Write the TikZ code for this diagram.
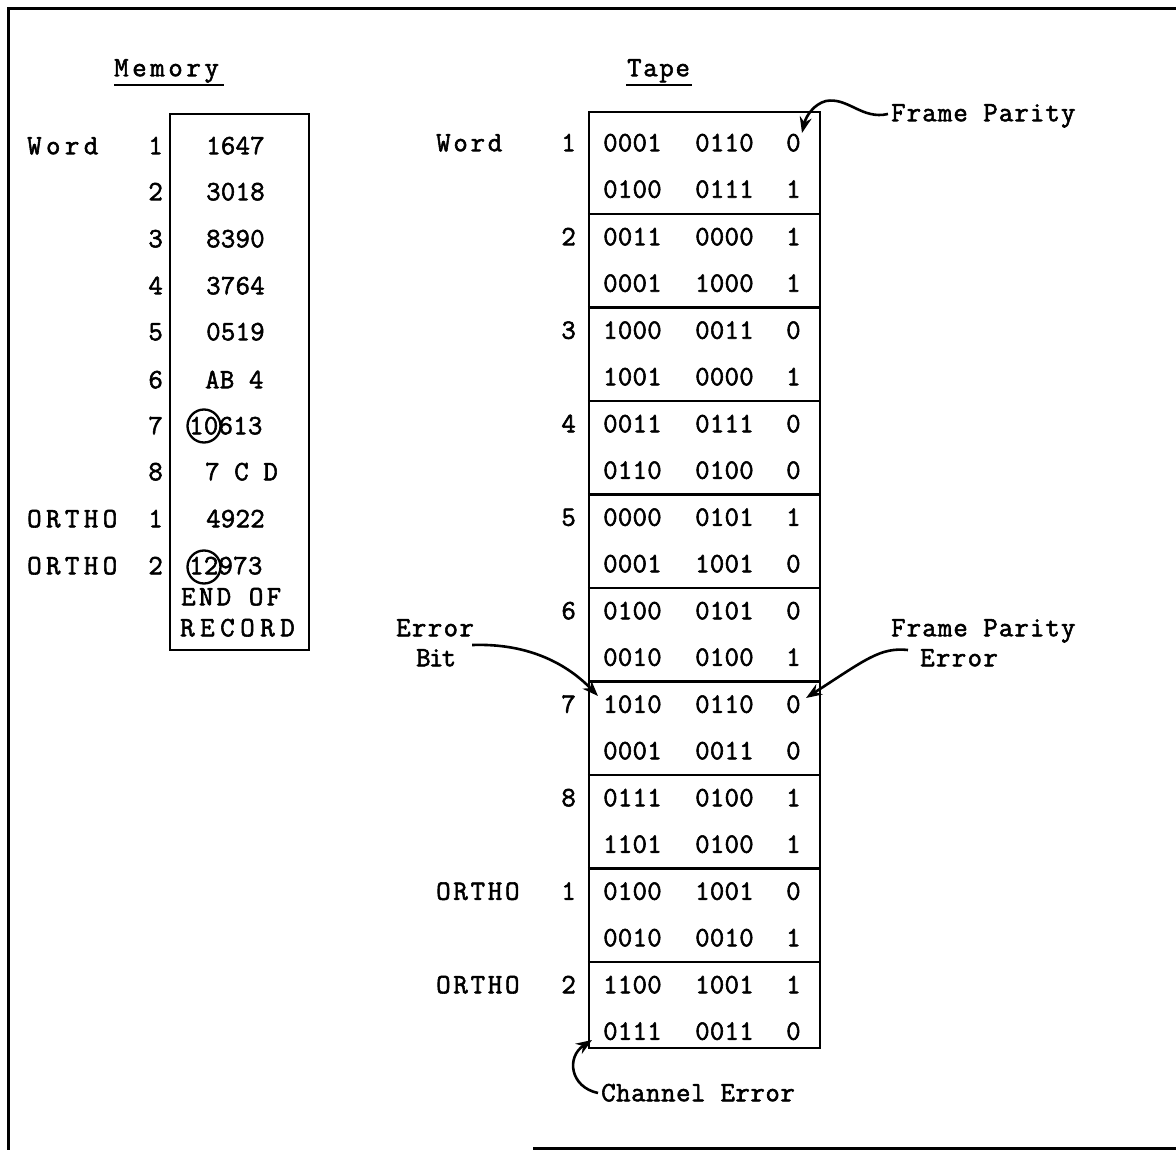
\documentclass[tikz,border=0pt]{standalone}
\usepackage{fontspec}
\newfontfamily\tw[FakeBold=2]{Latin Modern Mono}
\usetikzlibrary{arrows.meta,calc}
\tikzset{
  txt/.style={font=\tw\fontsize{28}{32}\selectfont\addfontfeatures{LetterSpace=1}, inner sep=0pt, text height=16.5pt, text depth=0pt},
  arr/.style={line width=2.6pt, -{Stealth[length=16pt,width=12pt]}},
  framel/.style={line width=3pt},
  boxl/.style={line width=2.4pt},
  ring/.style={circle, draw, line width=2.3pt, minimum size=33pt, inner sep=0pt}
}
\newcommand{\ls}[1]{\addfontfeatures{LetterSpace=#1}}
\begin{document}
\begin{tikzpicture}[x=1pt,y=-1pt]
\useasboundingbox (0,0) rectangle (1176,1150);
% outer frame (partial)
\draw[framel] (8,1150) -- (8,9) -- (1176,9);
\draw[framel] (533,1148) -- (1176,1148);

% titles
\node[txt, anchor=west] (memt) at (114,68) {\ls{13}Memory};
\draw[line width=2.4pt] (114,85) -- (224,85);
\node[txt, anchor=west] (tapet) at (627,68) {\ls{6}Tape};
\draw[line width=2.4pt] (626,85) -- (692,85);

% memory box
\node[draw, boxl, minimum width=139pt, minimum height=536pt, inner sep=0pt] (membox) at (239.5,382) {};
\foreach \i/\lab/\num/\val/\vx/\y in {
  1/Word/1/1647/206/146, 2//2/3018/206/192, 3//3/8390/206/239, 4//4/3764/206/286,
  5//5/0519/206/332, 6//6/AB 4/205/380, 7//7/10613/189/426, 8//8/7 C D/205/472,
  9/ORTHO/1/4922/206/519, 10/ORTHO/2/12973/189/566}{
  \node[txt, anchor=west] (ml\i) at (27,\y) {\ls{16}\lab};
  \node[txt, anchor=east] (mn\i) at (163,\y) {\num};
  \node[txt, anchor=west] (mv\i) at (\vx,\y) {\val};
}
\node[txt, anchor=west] (eof) at (181,597) {\ls{12}END OF};
\node[txt, anchor=west] (rec) at (180,628) {\ls{20}RECORD};
\node[ring] (c7) at (204,426) {};
\node[ring] (c10) at (204,567) {};

% tape box
\node[draw, boxl, minimum width=231pt, minimum height=936pt, inner sep=0pt] (tape) at (704.5,580) {};
\foreach \k in {1,...,9}{
  \draw[boxl] (tape.west |- 0,{214+93.5*(\k-1)}) -- (tape.east |- 0,{214+93.5*(\k-1)});
}
\foreach \k/\lab/\num/\a/\b/\c/\d/\e/\f in {
  0/Word/1/0001/0110/0/0100/0111/1,
  1//2/0011/0000/1/0001/1000/1,
  2//3/1000/0011/0/1001/0000/1,
  3//4/0011/0111/0/0110/0100/0,
  4//5/0000/0101/1/0001/1001/0,
  5//6/0100/0101/0/0010/0100/1,
  6//7/1010/0110/0/0001/0011/0,
  7//8/0111/0100/1/1101/0100/1,
  8/ORTHO/1/0100/1001/0/0010/0010/1,
  9/ORTHO/2/1100/1001/1/0111/0011/0}{
  \pgfmathsetmacro\ya{\k==0 ? 143 : 237+93.5*(\k-1)}
  \pgfmathsetmacro\yb{\ya+46.5}
  \node[txt, anchor=west] (tl\k) at (436,\ya) {\ls{10}\lab};
  \node[txt, anchor=east] (tn\k) at (576,\ya) {\num};
  \node[txt, anchor=west] (t\k a) at (603,\ya) {\a};
  \node[txt, anchor=west] (t\k b) at (695,\ya) {\b};
  \node[txt, anchor=west] (t\k c) at (786,\ya) {\c};
  \node[txt, anchor=west] (t\k d) at (603,\yb) {\d};
  \node[txt, anchor=west] (t\k e) at (695,\yb) {\e};
  \node[txt, anchor=west] (t\k f) at (786,\yb) {\f};
}

% annotations
\node[txt, anchor=west] (fp) at (891,113) {\ls{4}Frame Parity};
\node[txt, anchor=west] (fpe1) at (891,628) {\ls{4}Frame Parity};
\node[txt, anchor=west] (fpe2) at (920,658) {\ls{5}Error};
\node[txt, anchor=west] (eb1) at (396,628) {\ls{5}Error};
\node[txt, anchor=west] (eb2) at (416,658) {\ls{-6}Bit};
\node[txt, anchor=west] (ce) at (601,1093) {\ls{2}Channel Error};

\coordinate (fptip) at (802,133);
\coordinate (ebtip) at (598,696);
\coordinate (fpetip) at (806,698);
\coordinate (cetip) at (592,1040);

\draw[arr] ([xshift=-3pt,yshift=-1pt]fp.west) .. controls (862,120) and (848,97) .. (826,101)
  .. controls (814,104) and (806,116) .. (fptip);
\draw[arr] ([xshift=-2pt,yshift=-17pt]eb1.east) .. controls (530,643) and (568,665) .. (ebtip);
\draw[arr] ([xshift=-12pt,yshift=8pt]fpe2.west) .. controls (880,647) and (865,660) .. (fpetip);
\draw[arr] ([xshift=-3pt]ce.west) .. controls (570,1087) and (566,1057) .. (cetip);
\end{tikzpicture}
\end{document}
